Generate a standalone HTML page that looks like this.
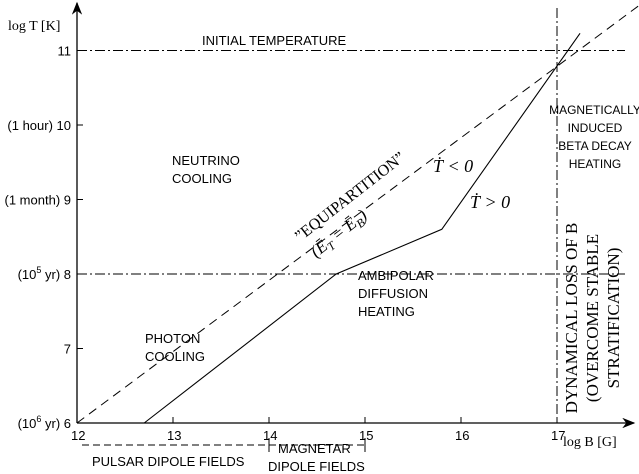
<!DOCTYPE html>
<html><head><meta charset="utf-8"><style>
body{margin:0;background:#fff}
svg{display:block}
.s{font-family:"Liberation Sans",sans-serif;font-size:13px}
.r{font-family:"Liberation Serif",serif;font-size:14px}
</style></head><body>
<svg id="c" width="639" height="474" viewBox="0 0 639 474">
<defs><marker id="ar" markerWidth="10" markerHeight="8" refX="9" refY="4" orient="auto"><path d="M0,0 L10,4 L0,8 L3,4z" fill="#000"/></marker></defs>
</svg>
<script>
const xTicks=[12,13,14,15,16,17];
const yTicks=[6,7,8,9,10,11];
const yTickLabels=[["(10","6"," yr) 6"],["7"],["(10","5"," yr) 8"],["(1 month)  9"],["(1 hour) 10"],["11"]];
const coolingB=[12.7,14.7,15.8,17.24];
const coolingT=[6,8,8.6,11.23];
const equiB=[12,17.85];
const equiT=[6,11.6];
const x0=77,xs=96,y0=423,ys=74.5;
const X=v=>x0+(v-12)*xs, Y=v=>y0-(v-6)*ys;
const svg=document.getElementById('c');
const NS='http://www.w3.org/2000/svg';
function mk(t,a,txt,p){const e=document.createElementNS(NS,t);for(const k in a)e.setAttribute(k,a[k]);if(txt!==undefined)e.textContent=txt;(p||svg).appendChild(e);return e;}
let e;
e=mk('line',{x1:x0,y1:y0,x2:634,y2:y0,stroke:'#000','stroke-width':1.3,'marker-end':'url(#ar)'});


e=mk('line',{x1:x0,y1:y0,x2:x0,y2:3,stroke:'#000','stroke-width':1.3,'marker-end':'url(#ar)'});


xTicks.forEach(v=>{
 e=mk('line',{x1:X(v),y1:y0,x2:X(v),y2:y0-6,stroke:'#000'});
 
 
 e=mk('text',{x:X(v)-6,y:y0+17,class:'s'},String(v));
 
 
});
yTicks.forEach((v,i)=>{
 e=mk('line',{x1:x0,y1:Y(v),x2:x0+6,y2:Y(v),stroke:'#000'});
 
 
 const L=yTickLabels[i];
 e=mk('text',{x:x0-6,y:Y(v)+5,class:'s','text-anchor':'end'});
 
 
 if(L.length===1){e.textContent=L[0];}
 else{mk('tspan',{},L[0],e);mk('tspan',{dy:-6,style:'font-size:9px'},L[1],e);mk('tspan',{dy:6},L[2],e);}
});
e=mk('text',{x:8,y:30,class:'r'},'log T [K]');


e=mk('text',{x:563,y:446,class:'r'},'log B [G]');


[[11],[8]].forEach(v=>{
 e=mk('line',{x1:x0,y1:Y(v[0]),x2:625,y2:Y(v[0]),stroke:'#000','stroke-dasharray':'10,3,2,3'});
 
 
});
e=mk('line',{x1:X(17),y1:8,x2:X(17),y2:y0,stroke:'#000','stroke-dasharray':'10,3,2,3'});


e=mk('polyline',{points:equiB.map((b,i)=>X(b)+','+Y(equiT[i])).join(' '),fill:'none',stroke:'#000','stroke-dasharray':'9,6'});


e=mk('polyline',{points:coolingB.map((b,i)=>X(b)+','+Y(coolingT[i])).join(' '),fill:'none',stroke:'#000','stroke-width':1.1});


e=mk('line',{x1:X(12)+5,y1:445,x2:X(15),y2:445,stroke:'#000','stroke-dasharray':'7,4'});


e=mk('line',{x1:X(14),y1:438,x2:X(14),y2:452,stroke:'#000'});


e=mk('line',{x1:X(15),y1:438,x2:X(15),y2:452,stroke:'#000'});


const labels=[
 ['INITIAL TEMPERATURE',202,45,'initial-temperature-label'],
 ['NEUTRINO',172,165,'neutrino-label'],['COOLING',172,183,'neutrino-label'],
 ['PHOTON',145,343,'photon-label'],['COOLING',145,361,'photon-label'],
 ['AMBIPOLAR',358,280,'ambipolar-label'],['DIFFUSION',358,298,'ambipolar-label'],['HEATING',358,316,'ambipolar-label'],
 ['PULSAR DIPOLE FIELDS',92,466,'pulsar-label'],
 ['MAGNETAR',278,453,'magnetar-label'],['DIPOLE FIELDS',268,471,'magnetar-label']
];
labels.forEach(l=>{e=mk('text',{x:l[1],y:l[2],class:'s'},l[0]);
 
 });
[['MAGNETICALLY',114],['INDUCED',132],['BETA DECAY',150],['HEATING',168]].forEach(l=>{
 e=mk('text',{x:595,y:l[1],class:'s','text-anchor':'middle',style:'font-size:12px'},l[0]);
 
 });
e=mk('text',{x:0,y:0,class:'r',style:'font-size:16px',transform:'translate(300,242) rotate(-38)'},'”EQUIPARTITION”');


e=mk('text',{x:0,y:0,class:'r',style:'font-size:17px;font-style:italic',transform:'translate(316,258) rotate(-38)'});


mk('tspan',{},'(Ē',e);mk('tspan',{dy:4,style:'font-size:12px'},'T',e);mk('tspan',{dy:-4},' = Ē',e);mk('tspan',{dy:4,style:'font-size:12px'},'B',e);mk('tspan',{dy:-4},')',e);
e=mk('text',{x:433,y:172,class:'r',style:'font-size:18px;font-style:italic'},'Ṫ < 0');


e=mk('text',{x:470,y:208,class:'r',style:'font-size:18px;font-style:italic'},'Ṫ > 0');


[['DYNAMICAL LOSS OF B',577],['(OVERCOME STABLE',598],['STRATIFICATION)',619]].forEach(l=>{
 e=mk('text',{x:0,y:0,class:'r','text-anchor':'middle',style:'font-size:17px',transform:'translate('+l[1]+',318) rotate(-90)'},l[0]);
 
 });
</script>
</body></html>
